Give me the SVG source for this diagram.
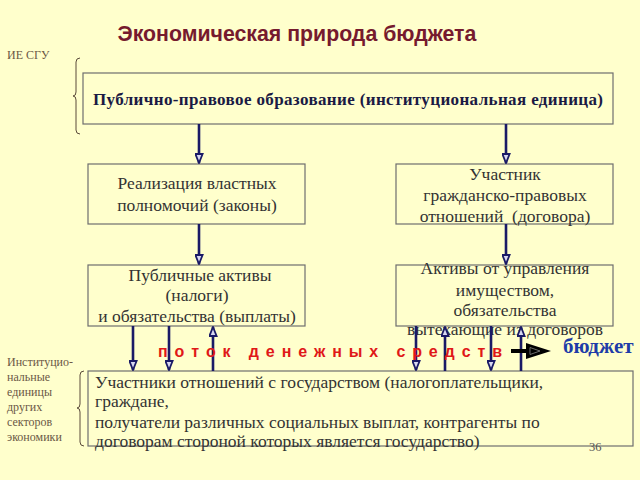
<svg xmlns="http://www.w3.org/2000/svg" width="640" height="480" viewBox="0 0 640 480">
<defs>
<style>
.bg{fill:#FFFFCC}
.box{fill:none;stroke:#6E6E6E;stroke-width:1.2}
.t{font-family:"Liberation Serif","Times New Roman",serif;font-size:17.5px;fill:#333333}
.tc{text-anchor:middle}
.side{font-family:"Liberation Serif","Times New Roman",serif;font-size:12px;fill:#6B5845}
.con{stroke:#1A1A66;stroke-width:2.6;fill:none}
.br{stroke:#5A4A3A;stroke-width:1;fill:none}
</style>
<marker id="ah" viewBox="0 0 12 10" refX="11" refY="5" markerWidth="11" markerHeight="9" markerUnits="userSpaceOnUse" orient="auto">
<polygon points="1,1 11,5 1,9" fill="#D8D8F0" stroke="#1A1A66" stroke-width="2"/>
</marker>
</defs>
<rect class="bg" x="0" y="0" width="640" height="480"/>
<text x="297" y="41" text-anchor="middle" font-family="Liberation Sans, Arial, sans-serif" font-size="21.3" font-weight="bold" fill="#761A2E">Экономическая природа бюджета</text>
<text class="side" x="7" y="59">ИЕ СГУ</text>
<path class="br" d="M80,58 Q76,58 76,62 L76,92 Q76,96 73,96 Q76,96 76,100 L76,130 Q76,134 80,134"/>
<path class="br" d="M84,371 Q80,371 80,375 L80,404 Q80,408 77,408 Q80,408 80,412 L80,442 Q80,446 84,446"/>
<g id="n1">
<rect class="box" x="83" y="73" width="530" height="51"/>
<text x="348" y="105" text-anchor="middle" font-family="Liberation Serif, Times New Roman, serif" font-size="17" font-weight="bold" fill="#1A1A44" textLength="510" lengthAdjust="spacing">Публично-правовое образование (институциональная единица)</text>
</g>
<g id="n2">
<rect class="box" x="88" y="164" width="217" height="60"/>
<text class="t tc" x="197" y="189">Реализация властных</text>
<text class="t tc" x="197" y="211">полномочий (законы)</text>
</g>
<g id="n3">
<rect class="box" x="396" y="164" width="217" height="60"/>
<text class="t tc" x="505" y="180">Участник</text>
<text class="t tc" x="505" y="201">гражданско-правовых</text>
<text class="t tc" x="505" y="222" style="white-space:pre">отношений  (договора)</text>
</g>
<g id="n4">
<rect class="box" x="88" y="265" width="217" height="61"/>
<text class="t tc" x="200" y="281">Публичные активы</text>
<text class="t tc" x="197" y="301">(налоги)</text>
<text class="t tc" x="197" y="322">и обязательства (выплаты)</text>
</g>
<g id="n5">
<rect class="box" x="396" y="265" width="217" height="61"/>
<text class="t tc" x="505" y="274">Активы от управления</text>
<text class="t tc" x="505" y="296">имуществом,</text>
<text class="t tc" x="505" y="316">обязательства</text>
<text class="t tc" x="505" y="335">вытекающие из договоров</text>
</g>
<g id="n6">
<rect class="box" x="88" y="371" width="545" height="75"/>
<text class="t" x="95" y="388">Участники отношений с государством (налогоплательщики,</text>
<text class="t" x="95" y="407">граждане,</text>
<text class="t" x="95" y="428">получатели различных социальных выплат, контрагенты по</text>
<text class="t" x="95" y="447">договорам стороной которых является государство)</text>
</g>
<g id="side-labels">
<text class="side" x="7" y="366">Институцио-</text>
<text class="side" x="7" y="381">нальные</text>
<text class="side" x="7" y="396">единицы</text>
<text class="side" x="7" y="411">других</text>
<text class="side" x="7" y="426">секторов</text>
<text class="side" x="7" y="441">экономики</text>
</g>
<g id="connectors">
<line class="con" x1="199" y1="124" x2="199" y2="163" marker-end="url(#ah)"/>
<line class="con" x1="506" y1="124" x2="506" y2="163" marker-end="url(#ah)"/>
<line class="con" x1="199" y1="224" x2="199" y2="264" marker-end="url(#ah)"/>
<line class="con" x1="506" y1="224" x2="506" y2="264" marker-end="url(#ah)"/>
<line class="con" x1="133" y1="326" x2="133" y2="370" marker-end="url(#ah)"/>
<line class="con" x1="169" y1="326" x2="169" y2="370" marker-end="url(#ah)"/>
<line class="con" x1="213" y1="371" x2="213" y2="327" marker-end="url(#ah)"/>
<line class="con" x1="416" y1="326" x2="416" y2="370" marker-end="url(#ah)"/>
<line class="con" x1="445" y1="371" x2="445" y2="327" marker-end="url(#ah)"/>
<line class="con" x1="491" y1="326" x2="491" y2="370" marker-end="url(#ah)"/>
<line class="con" x1="521" y1="371" x2="521" y2="327" marker-end="url(#ah)"/>
<line x1="511" y1="351" x2="530" y2="351" stroke="#000" stroke-width="4"/>
<polygon points="526,343 551,351 526,359" fill="#000"/>
<polygon points="530,347.5 540,351 530,354.5" fill="none" stroke="#888" stroke-width="0.8"/>
</g>
<text x="158" y="357" font-family="Liberation Sans, Arial, sans-serif" font-size="16" font-weight="bold" fill="#E01818" style="white-space:pre" textLength="344" lengthAdjust="spacing">п о т о к   д е н е ж н ы х   с р е д с т в</text>
<text x="563" y="353" font-family="Liberation Serif, Times New Roman, serif" font-size="21" font-weight="bold" fill="#1E3CA8">бюджет</text>
<text x="589" y="451" font-family="Liberation Serif, Times New Roman, serif" font-size="12.5" fill="#555555">36</text>
</svg>
